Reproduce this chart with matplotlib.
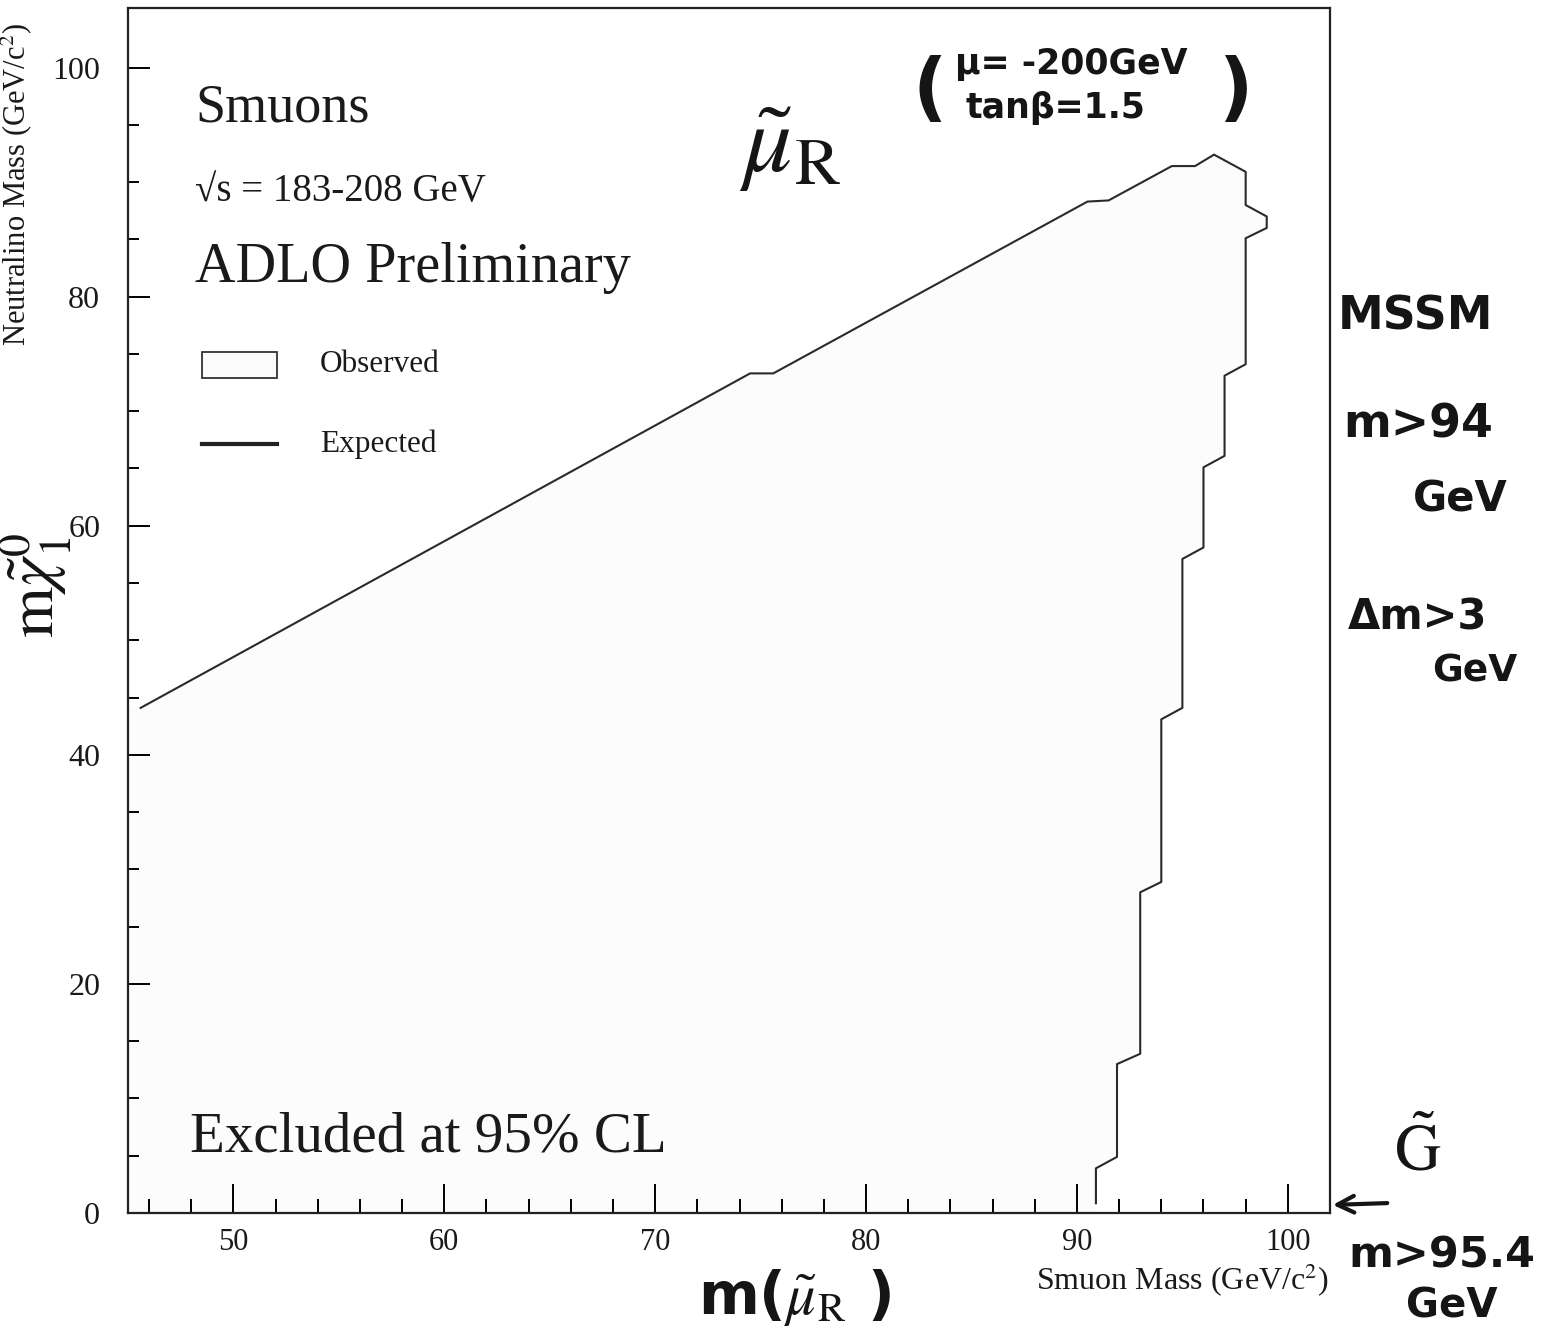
import matplotlib
matplotlib.use("Agg")
import matplotlib.pyplot as plt
from matplotlib.patches import Rectangle
from matplotlib.lines import Line2D

# exclusion contour (smuon mass, neutralino mass) in GeV
obs_x = [45.6, 74.5, 75.6, 90.5, 91.5, 94.5, 95.6, 96.5, 98.0, 98.0, 99.0, 99.0,
         98.0, 98.0, 97.0, 97.0, 96.0, 96.0, 95.0, 95.0, 94.0, 94.0, 93.0, 93.0,
         91.9, 91.9, 90.9, 90.9]
obs_y = [44.1, 73.3, 73.3, 88.3, 88.4, 91.4, 91.4, 92.4, 90.9, 88.0, 87.0, 86.0,
         85.1, 74.1, 73.1, 66.1, 65.1, 58.1, 57.1, 44.1, 43.1, 28.9, 28.0, 13.9,
         13.0, 4.9, 3.9, 0.85]

x_major = [50, 60, 70, 80, 90, 100]
y_major = [0, 20, 40, 60, 80, 100]

W, H = 1543, 1342
plt.rcParams['mathtext.fontset'] = 'stix'
serif = 'Liberation Serif'
ink = '#1a1a1a'
hand = dict(family='DejaVu Sans', color='#151515', fontweight='bold')


def fx(px):
    return px / W


def fy(py):
    return 1 - py / H


fig = plt.figure(figsize=(W / 100, H / 100), dpi=100)
ax = fig.add_axes([fx(128), fy(1213), fx(1330) - fx(128), fy(8) - fy(1213)])
ax.set_xlim(45, 102)
ax.set_ylim(0, 105.2)

# excluded region and its boundary
ax.fill(obs_x + [obs_x[-1], 45, 45], obs_y + [0, 0, obs_y[0]],
        color='#fcfcfc', lw=0, zorder=1)
ax.plot(obs_x, obs_y, color='#2a2a2a', lw=1.5, zorder=2)

for s in ax.spines.values():
    s.set_linewidth(1.6)
    s.set_color('#222222')

ax.set_xticks(x_major)
ax.set_xticks([v for v in range(46, 102, 2) if v % 10], minor=True)
ax.set_yticks(y_major)
ax.set_yticks([v for v in range(5, 105, 5) if v % 20], minor=True)
ax.tick_params(axis='x', which='major', direction='in', length=21, width=1.4,
               pad=11, labelsize=22)
ax.tick_params(axis='x', which='minor', direction='in', length=10, width=1.4)
ax.tick_params(axis='y', which='major', direction='in', length=16, width=1.4,
               pad=20, labelsize=23)
ax.tick_params(axis='y', which='minor', direction='in', length=8, width=1.4)
for lab in ax.get_xticklabels() + ax.get_yticklabels():
    lab.set_family(serif)
    lab.set_color(ink)

# printed labels
ax.text(fx(195), fy(108), 'Smuons', transform=fig.transFigure, family=serif,
        fontsize=39, va='center', color=ink)
ax.text(fx(195), fy(192), '√s = 183-208 GeV', transform=fig.transFigure,
        family=serif, fontsize=28, va='center', color=ink)
ax.text(fx(195), fy(268), 'ADLO Preliminary', transform=fig.transFigure,
        family=serif, fontsize=40.5, va='center', color=ink)
ax.text(fx(190), fy(1138), 'Excluded at 95% CL', transform=fig.transFigure,
        family=serif, fontsize=41, va='center', color=ink)

# legend
fig.patches.append(Rectangle((fx(202), fy(378)), fx(277) - fx(202), fy(352) - fy(378),
                             transform=fig.transFigure, facecolor='#fbfbfb',
                             edgecolor='#333333', lw=1.3))
fig.lines.append(Line2D([fx(202), fx(277)], [fy(444), fy(444)],
                        transform=fig.transFigure, color='#222222', lw=3))
fig.text(fx(320), fy(364), 'Observed', family=serif, fontsize=22.5, va='center',
         color=ink)
fig.text(fx(320), fy(444), 'Expected', family=serif, fontsize=22.5, va='center',
         color=ink)

fig.text(fx(1182), fy(1280), 'Smuon Mass (GeV/c$^{2}$)', family=serif,
         fontsize=23, ha='center', va='center', color=ink)
fig.text(fx(16), fy(346), 'Neutralino Mass (GeV/c$^{2}$)', family=serif,
         fontsize=22, rotation=90, ha='center', va='bottom', color=ink)

# handwritten notes
fig.text(fx(36), fy(585), r'$\mathrm{m}\tilde{\chi}_1^0$', fontsize=47, rotation=90,
         ha='center', va='center', color='#151515')
fig.text(fx(790), fy(148), r'$\tilde{\mu}_\mathrm{R}$', fontsize=70, ha='center',
         va='center', color='#151515')
fig.text(fx(930), fy(92), '(', fontsize=54, ha='center', va='center', **hand)
fig.text(fx(1236), fy(92), ')', fontsize=54, ha='center', va='center', **hand)
fig.text(fx(955), fy(64), 'μ= -200GeV', fontsize=25, va='center', **hand)
fig.text(fx(965), fy(108), 'tanβ=1.5', fontsize=25, va='center', **hand)
fig.text(fx(1415), fy(317), 'MSSM', fontsize=33, ha='center', va='center', **hand)
fig.text(fx(1418), fy(425), 'm>94', fontsize=33, ha='center', va='center', **hand)
fig.text(fx(1460), fy(500), 'GeV', fontsize=30, ha='center', va='center', **hand)
fig.text(fx(1418), fy(618), 'Δm>3', fontsize=30, ha='center', va='center', **hand)
fig.text(fx(1475), fy(672), 'GeV', fontsize=27, ha='center', va='center', **hand)
fig.text(fx(1418), fy(1152), r'$\tilde{\mathrm{G}}$', fontsize=46, ha='center',
         va='center', color='#151515')
fig.text(fx(1442), fy(1255), 'm>95.4', fontsize=31, ha='center', va='center', **hand)
fig.text(fx(1452), fy(1306), 'GeV', fontsize=29, ha='center', va='center', **hand)
fig.text(fx(795), fy(1298), r'm($\tilde{\mu}_\mathrm{R}$ )', fontsize=42, ha='center',
         va='center', **hand)
ax.annotate('', xy=(fx(1330), fy(1205)), xycoords='figure fraction',
            xytext=(fx(1390), fy(1203)), textcoords='figure fraction',
            arrowprops=dict(arrowstyle='->', lw=3, color='#151515',
                            mutation_scale=30))

fig.savefig('out.png', dpi=100, facecolor='white')
